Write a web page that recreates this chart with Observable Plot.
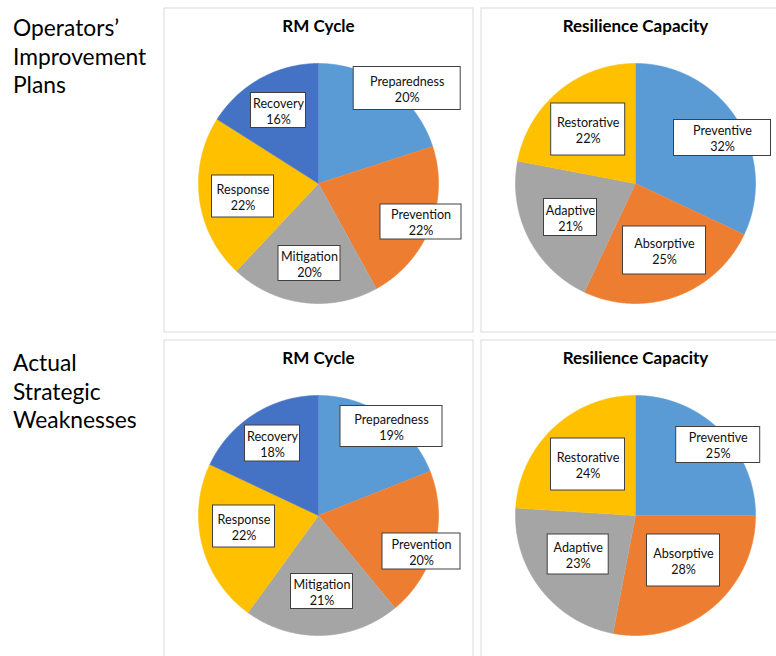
<!DOCTYPE html>
<html><head><meta charset="utf-8">
<script src="https://cdn.jsdelivr.net/npm/d3@7"></script>
<script src="https://cdn.jsdelivr.net/npm/@observablehq/plot@0.6"></script>
<style>
html,body{margin:0;padding:0;background:#fff;overflow:hidden;width:776px;height:656px;}
#root{position:relative;width:776px;height:656px;overflow:hidden;font-family:Lato, sans-serif;}
.rowlab{position:absolute;left:13px;font-size:22.8px;line-height:28.5px;color:#000;white-space:pre-line;}
</style></head><body><div id="root"></div>
<script>
// ---- data ----
const rmCategories = ["Preparedness","Prevention","Mitigation","Response","Recovery"];
const rcCategories = ["Preventive","Absorptive","Adaptive","Restorative"];
const rmPlans  = [20,22,20,22,16];
const rcPlans  = [32,25,21,22];
const rmActual = [19,20,21,22,18];
const rcActual = [25,28,23,24];
const rowLabels = ["Operators’\nImprovement\nPlans","Actual\nStrategic\nWeaknesses"];
const panelTitles = ["RM Cycle","Resilience Capacity"];

// ---- styles / layout (kept apart from data) ----
const rmColors = ["#5B9BD5","#ED7D31","#A5A5A5","#FFC000","#4472C4"];
const rcColors = ["#5B9BD5","#ED7D31","#A5A5A5","#FFC000"];
// label box: [dx, dy (down), boxWidth, boxHeight] in px relative to pie centre
const layoutRmPlans  = [[88.7,-95,107,43],[102.5,38.5,81,35],[-9,80,62,35],[-75.5,13,62,42],[-40,-73,55,35]];
const layoutRcPlans  = [[87,-45.5,97,36],[29,67,83,48],[-65,34,53,37],[-47.3,-54,74,52]];
const layoutRmActual = [[73,-89,102,41],[103,36,78,36],[3.5,76,62,35],[-74.5,11,62,42],[-46,-72,55,36]];
const layoutRcActual = [[82.7,-70.5,84,36],[48,45,73,52],[-57.3,39,61,40],[-47.5,-51,74,52]];

const R = 120, W = 310, H = 325, CX = 155, CY = 176;

function pieChart(title, cats, vals, colors, layout) {
  const rows = cats.map((c, i) => ({key: c, value: vals[i]}));
  const arcs = d3.pie().value(d => d.value).sort(null)(rows);
  const poly = [];
  for (const a of arcs) {
    poly.push({key: a.data.key, px: 0, py: 0});
    const n = Math.max(2, Math.ceil((a.endAngle - a.startAngle) / (Math.PI / 360)));
    for (let k = 0; k <= n; k++) {
      const t = a.startAngle + (a.endAngle - a.startAngle) * k / n;
      poly.push({key: a.data.key, px: Math.sin(t), py: Math.cos(t)});
    }
  }
  const labels = arcs.map((a, i) => ({
    key: a.data.key, value: a.data.value,
    cx: layout[i][0] / R, cy: -layout[i][1] / R,
    hw: layout[i][2] / 2 / R, hh: layout[i][3] / 2 / R
  }));
  return Plot.plot({
    width: W, height: H, margin: 0,
    x: {domain: [-1, 1], range: [CX - R, CX + R], axis: null},
    y: {domain: [-1, 1], range: [CY + R, CY - R], axis: null},
    color: {domain: cats, range: colors},
    style: {fontFamily: "Lato, sans-serif", background: "white", overflow: "visible"},
    marks: [
      Plot.frame({stroke: "#d9d9d9", inset: 0.5}),
      Plot.text([title], {text: d => d, frameAnchor: "top", lineAnchor: "middle", dy: 19.5,
        fontSize: 17, fontWeight: "bold", fill: "#000"}),
      Plot.line(poly, {x: "px", y: "py", z: "key", fill: "key", stroke: "key", strokeWidth: 0.6, curve: "linear"}),
      Plot.rect(labels, {x1: d => d.cx - d.hw, x2: d => d.cx + d.hw, y1: d => d.cy - d.hh, y2: d => d.cy + d.hh,
        fill: "white", stroke: "#404040", strokeWidth: 1}),
      Plot.text(labels, {x: "cx", y: "cy", text: d => `${d.key}\n${d.value}%`, fontSize: 12.6,
        lineHeight: 1.3, fill: "#111"})
    ]
  });
}

const root = document.getElementById("root");
const panels = [
  [pieChart(panelTitles[0], rmCategories, rmPlans, rmColors, layoutRmPlans), 163, 7],
  [pieChart(panelTitles[1], rcCategories, rcPlans, rcColors, layoutRcPlans), 480, 7],
  [pieChart(panelTitles[0], rmCategories, rmActual, rmColors, layoutRmActual), 163, 339],
  [pieChart(panelTitles[1], rcCategories, rcActual, rcColors, layoutRcActual), 480, 339]
];
for (const [svg, left, top] of panels) {
  svg.style.position = "absolute";
  svg.style.left = left + "px";
  svg.style.top = top + "px";
  root.appendChild(svg);
}
[[rowLabels[0], 13], [rowLabels[1], 348]].forEach(([t, top]) => {
  const d = document.createElement("div");
  d.className = "rowlab";
  d.style.top = top + "px";
  d.textContent = t;
  root.appendChild(d);
});
</script></body></html>
